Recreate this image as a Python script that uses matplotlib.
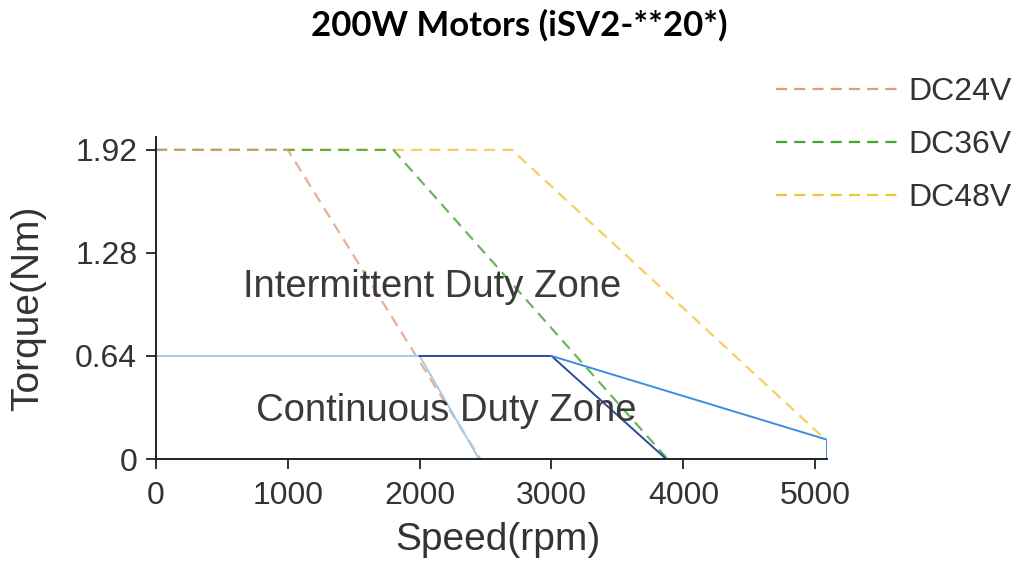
import matplotlib
matplotlib.use("Agg")
import matplotlib.pyplot as plt

### DATA ###
title = "200W Motors (iSV2-**20*)"
voltages = ["DC24V", "DC36V", "DC48V"]

# peak torque curves (speed rpm, torque Nm)
dc24_speed = [0, 1000, 2460]
dc24_torque = [1.92, 1.92, 0]
dc36_speed = [0, 1800, 3880]
dc36_torque = [1.92, 1.92, 0]
dc48_speed = [0, 2700, 5080]
dc48_torque = [1.92, 1.92, 0.12]

# continuous duty curves
cont24_speed = [0, 2000, 2450]
cont24_torque = [0.64, 0.64, 0]
cont36_speed = [2000, 3000, 3870]
cont36_torque = [0.64, 0.64, 0]
cont48_speed = [3000, 5090, 5090]
cont48_torque = [0.64, 0.12, 0]

x_ticks = [0, 1000, 2000, 3000, 4000, 5000]
y_ticks = [0, 0.64, 1.28, 1.92]
y_tick_labels = ["0", "0.64", "1.28", "1.92"]

plt.rcParams['font.family'] = ['Liberation Sans', 'DejaVu Sans']

fig = plt.figure(figsize=(10.21, 5.65), dpi=100)
ax = fig.add_axes([0.1528, 0.1876, 0.81 - 0.1528, 0.7575 - 0.1876])

dash = (0, (5, 3.2))
# draw order yellow -> green -> salmon so the shared top segment blends to tan
l48, = ax.plot(dc48_speed, dc48_torque, color='#f3c535', lw=1.6, ls=dash, alpha=0.8)
l36, = ax.plot(dc36_speed, dc36_torque, color='#43a532', lw=1.6, ls=dash, alpha=0.8)
l24, = ax.plot(dc24_speed, dc24_torque, color='#e39a7e', lw=1.6, ls=dash, alpha=0.8)

ax.plot(cont24_speed, cont24_torque, color='#9fcdea', lw=1.4)
ax.plot(cont36_speed, cont36_torque, color='#2b4a99', lw=1.4)
ax.plot(cont48_speed, cont48_torque, color='#3a8fdb', lw=1.4)

ax.set_xlim(0, 5090)
ax.set_ylim(0, 2.0)
ax.set_xticks(x_ticks)
ax.set_yticks(y_ticks)
ax.set_yticklabels(y_tick_labels)
ax.tick_params(direction='out', length=7.5, width=1.3, labelsize=23,
               colors='#222222', labelcolor='#333333')
ax.tick_params(axis='x', pad=8)
ax.tick_params(axis='y', pad=6)

for side in ['top', 'right']:
    ax.spines[side].set_visible(False)
for side in ['left', 'bottom']:
    ax.spines[side].set_linewidth(1.4)
    ax.spines[side].set_color('#222222')

ax.set_xlabel("Speed(rpm)", fontsize=28, color='#333333', va='center')
ax.set_ylabel("Torque(Nm)", fontsize=28, color='#333333', va='center')
ax.xaxis.set_label_coords(0.51, -0.2516)
ax.yaxis.set_label_coords(-0.191, 0.469)

ax.text(2095, 1.07, "Intermittent Duty Zone", fontsize=27.5, color='#3a3a3a',
        ha='center', va='center')
ax.text(2200, 0.30, "Continuous Duty Zone", fontsize=27.5, color='#3a3a3a',
        ha='center', va='center')

leg = fig.legend([l24, l36, l48], voltages, loc='upper left',
                 bbox_to_anchor=(0.760, 0.863), frameon=False,
                 fontsize=23, handlelength=3.95, handletextpad=0.2, labelspacing=0.72,
                 labelcolor='#333333', borderpad=0, borderaxespad=0)
for h in leg.get_lines():
    h.set_alpha(1)

fig.suptitle(title, x=0.509, y=0.985, fontsize=25, fontweight='bold', family='Lato')

fig.savefig("out.png", dpi=100)
